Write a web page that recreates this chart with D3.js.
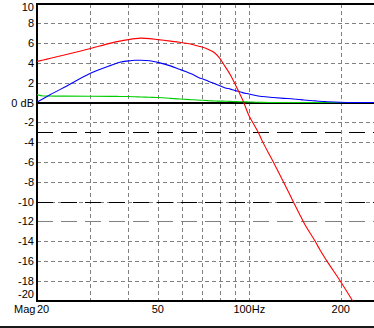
<!DOCTYPE html>
<html>
<head>
<meta charset="utf-8">
<script src="https://cdn.jsdelivr.net/npm/d3@7"></script>
<style>
  html, body { margin: 0; padding: 0; background: #fff; }
  svg { display: block; }
  text { font-family: "Liberation Sans", Arial, sans-serif; font-size: 11px; fill: #000; }
</style>
</head>
<body>
<script>
// Frequency response (magnitude, dB) of three filter variants
const freqs = [20, 21, 22, 25, 30, 35, 37.5, 40, 42, 44, 47, 50, 55, 59, 62, 65, 69, 70, 74, 77, 80, 83, 86.6, 90, 92.3, 95, 100, 103, 107, 110, 120, 130, 140, 146, 151, 165, 171, 180, 199, 219, 240, 260, 300];

const redDb   = [4.15, 4.3, 4.45, 4.85, 5.45, 6.0, 6.2, 6.35, 6.45, 6.5, 6.45, 6.35, 6.2, 6.08, 5.98, 5.85, 5.65, 5.6, 5.3, 5.0, 4.45, 3.7, 2.8, 1.8, 1.1, 0.3, -1.4, -2.1, -3.0, -3.8, -6.0, -8.1, -10.1, -11.2, -12.1, -14.05, -14.9, -16.0, -18.0, -20.05, -22.2, -24.0, -27.5];
const blueDb  = [0.05, 0.4, 0.75, 1.65, 2.95, 3.75, 4.07, 4.2, 4.27, 4.27, 4.22, 4.05, 3.7, 3.35, 3.1, 2.85, 2.45, 2.4, 2.1, 1.9, 1.7, 1.5, 1.35, 1.2, 1.12, 1.0, 0.85, 0.75, 0.65, 0.6, 0.5, 0.42, 0.36, 0.3, 0.26, 0.16, 0.12, 0.08, 0.02, 0.0, 0.0, 0.0, 0.0];
const greenDb = [0.8, 0.66, 0.65, 0.64, 0.63, 0.62, 0.61, 0.6, 0.58, 0.56, 0.53, 0.5, 0.42, 0.35, 0.32, 0.28, 0.23, 0.22, 0.18, 0.15, 0.14, 0.13, 0.11, 0.09, 0.08, 0.07, 0.05, 0.04, 0.02, 0.01, 0.0, 0.0, 0.0, 0.0, 0.0, 0.0, 0.0, 0.0, 0.0, 0.0, 0.0, 0.0, 0.0];

const yTicks = [10, 8, 6, 4, 2, 0, -2, -4, -6, -8, -10, -12, -14, -16, -18, -20];
const yTickLabels = ["10", "8", "6", "4", "2", "0 dB", "-2", "-4", "-6", "-8", "-10", "-12", "-14", "-16", "-18", "-20"];
const xGrid = [30, 40, 50, 60, 70, 80, 90, 100, 200];
const xTicks = [20, 50, 100, 200];
const xTickLabels = ["20", "50", "100Hz", "200"];
const refLevelsBlack = [-3, -10];
const refLevelsGray = [-12];

const W = 374, H = 328;
const plotLeft = 37, plotTop = 3.5, plotBottom = 300.5;

const x = d3.scaleLog().domain([20, 300]).range([plotLeft, plotLeft + 303.7 * Math.log10(15)]);
const y = d3.scaleLinear().domain([-20, 10]).range([plotBottom, plotTop]);

const svg = d3.select("body").append("svg").attr("width", W).attr("height", H);

svg.append("defs").append("clipPath").attr("id", "plot")
  .append("rect").attr("x", plotLeft).attr("y", plotTop - 1).attr("width", W - plotLeft).attr("height", plotBottom - plotTop + 1);

const grid = svg.append("g").attr("shape-rendering", "crispEdges");
const py = d => Math.round(y(d)) + 0.5;
const px = d => Math.round(x(d)) + 0.5;

// horizontal dotted grid
grid.selectAll("line.hg").data(yTicks.filter(v => v !== 10 && v !== 0 && v !== -20 && v !== -12))
  .join("line").attr("class", "hg")
  .attr("x1", plotLeft).attr("x2", W).attr("y1", py).attr("y2", py)
  .attr("stroke", "#808080").attr("stroke-dasharray", "4,3");

// vertical dotted grid
grid.selectAll("line.vg").data(xGrid)
  .join("line").attr("class", "vg")
  .attr("x1", px).attr("x2", px)
  .attr("y1", plotTop).attr("y2", plotBottom)
  .attr("stroke", "#808080").attr("stroke-dasharray", "4,3");

// reference levels
grid.selectAll("line.rg").data(refLevelsGray)
  .join("line").attr("class", "rg")
  .attr("x1", plotLeft).attr("x2", W).attr("y1", py).attr("y2", py)
  .attr("stroke", "#808080").attr("stroke-dasharray", "16,8");
grid.selectAll("line.rb").data(refLevelsBlack)
  .join("line").attr("class", "rb")
  .attr("x1", plotLeft).attr("x2", W).attr("y1", py).attr("y2", py)
  .attr("stroke", "#000").attr("stroke-dasharray", "16,8");

// frame lines: top, 0 dB, bottom, left
grid.selectAll("line.fr").data([10, 0, -20])
  .join("line").attr("class", "fr")
  .attr("x1", plotLeft).attr("x2", W).attr("y1", d => Math.round(y(d))).attr("y2", d => Math.round(y(d)))
  .attr("stroke", "#000").attr("stroke-width", 2);
grid.append("line").attr("x1", plotLeft).attr("x2", plotLeft).attr("y1", plotTop - 1).attr("y2", plotBottom + 1)
  .attr("stroke", "#000").attr("stroke-width", 2);

// curves
const line = d3.line().x((d, i) => x(freqs[i])).y(d => y(d)).curve(d3.curveMonotoneX);
const curves = svg.append("g").attr("clip-path", "url(#plot)");
[[greenDb, "#00cc00"], [blueDb, "#0000ff"], [redDb, "#ff0000"]].forEach(([data, col]) => {
  curves.append("path").datum(data).attr("d", line)
    .attr("fill", "none").attr("stroke", col).attr("stroke-width", 1.1);
});

// y labels
svg.selectAll("text.yl").data(yTicks)
  .join("text").attr("class", "yl")
  .attr("x", 34).attr("text-anchor", "end")
  .attr("y", d => d === 10 ? y(d) + 7.5 : d === -20 ? y(d) - 3 : y(d) + 4)
  .text((d, i) => yTickLabels[i]);

// x labels
svg.selectAll("text.xl").data(xTicks)
  .join("text").attr("class", "xl")
  .attr("x", d => x(d))
  .attr("text-anchor", d => d === 20 ? "start" : "middle")
  .attr("y", 313)
  .text((d, i) => xTickLabels[i]);
svg.append("text").attr("x", 14).attr("y", 313).text("Mag");

// bottom rule
svg.append("rect").attr("x", 0).attr("y", 326).attr("width", W).attr("height", 2).attr("fill", "#1a1a1a");
</script>
</body>
</html>
